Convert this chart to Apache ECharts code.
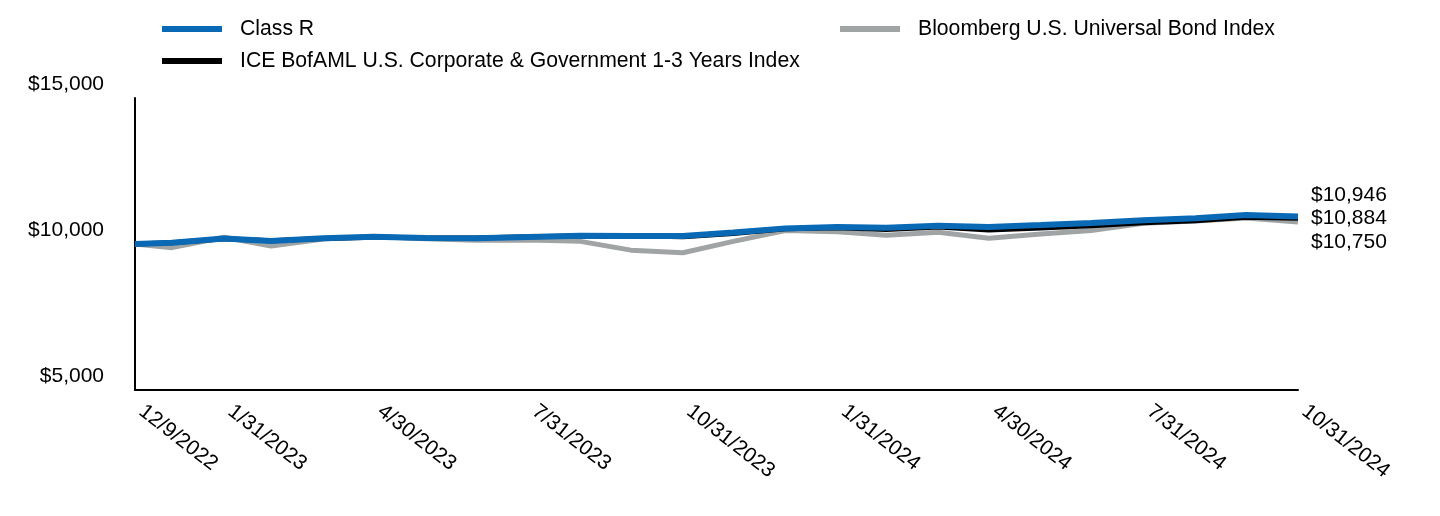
<!DOCTYPE html>
<html>
<head>
<meta charset="utf-8">
<script src="https://cdn.jsdelivr.net/npm/echarts@6/dist/echarts.min.js"></script>
<style>
html,body{margin:0;padding:0;background:#fff;}
#chart{width:1440px;height:516px;}
</style>
</head>
<body>
<div id="chart"></div>
<script>
// ---- data ----
var dates = ['2022-12-09','2022-12-31','2023-01-31','2023-02-28','2023-03-31','2023-04-30','2023-05-31','2023-06-30','2023-07-31','2023-08-31','2023-09-30','2023-10-31','2023-11-30','2023-12-31','2024-01-31','2024-02-29','2024-03-31','2024-04-30','2024-05-31','2024-06-30','2024-07-31','2024-08-31','2024-09-30','2024-10-31'];
var classR    = [10000,10045,10190,10100,10195,10250,10205,10195,10240,10285,10275,10275,10390,10535,10580,10560,10625,10580,10650,10720,10810,10880,10995,10946];
var iceIndex  = [10000,10040,10180,10110,10190,10230,10215,10205,10245,10270,10285,10250,10360,10520,10560,10500,10580,10480,10550,10625,10730,10800,10915,10884];
var bloomberg = [10000,9875,10230,9930,10170,10260,10180,10130,10140,10090,9790,9700,10090,10460,10420,10300,10400,10200,10340,10460,10710,10790,10890,10750];
var xLabelDates = ['2022-12-09','2023-01-31','2023-04-30','2023-07-31','2023-10-31','2024-01-31','2024-04-30','2024-07-31','2024-10-31'];
var yTicks = [5000,10000,15000];
var seriesNames = ['Class R','ICE BofAML U.S. Corporate & Government 1-3 Years Index','Bloomberg U.S. Universal Bond Index'];

function ts(s){var p=s.split('-');return Date.UTC(+p[0],+p[1]-1,+p[2]);}
function fmtDate(v){var d=new Date(v);return (d.getUTCMonth()+1)+'/'+d.getUTCDate()+'/'+d.getUTCFullYear();}
function money(v){return '$'+Math.round(v).toLocaleString('en-US');}
function pairs(arr){return arr.map(function(v,i){return [ts(dates[i]),v];});}

var FONT = 'Arial, "Liberation Sans", Helvetica, sans-serif';
var chart = echarts.init(document.getElementById('chart'));
chart.setOption({
  animation:false,
  backgroundColor:'#fff',
  textStyle:{fontFamily:FONT},
  legend:[{
    data:[seriesNames[0],seriesNames[1]],
    orient:'vertical', left:162, top:18, padding:0, itemWidth:60, itemHeight:6, itemGap:10,
    icon:'rect',
    textStyle:{fontSize:21.2,color:'#000',fontFamily:FONT,padding:[0,0,0,13],lineHeight:22}
  },{
    data:[seriesNames[2]],
    orient:'vertical', left:840, top:18, padding:0, itemWidth:60, itemHeight:6, itemGap:10,
    icon:'rect',
    textStyle:{fontSize:21.2,color:'#000',fontFamily:FONT,padding:[0,0,0,13],lineHeight:22}
  }],
  grid:{left:135,right:142,top:98,bottom:126,containLabel:false},
  xAxis:{
    type:'value',
    min:ts(dates[0]), max:ts(dates[dates.length-1]),
    axisLine:{show:true,onZero:false,lineStyle:{color:'#000',width:2}},
    axisTick:{show:false},
    splitLine:{show:false},
    axisLabel:{
      customValues:xLabelDates.map(ts),
      rotate:-38, margin:14, fontSize:21, color:'#000', fontFamily:FONT,
      padding:[0,0,0,8],
      formatter:function(v){return fmtDate(v);}
    }
  },
  yAxis:{
    type:'value', min:yTicks[0], max:yTicks[yTicks.length-1], interval:5000,
    axisLine:{show:true,onZero:false,lineStyle:{color:'#000',width:2}},
    axisTick:{show:false},
    splitLine:{show:false},
    axisLabel:{fontSize:21,color:'#000',margin:31,fontFamily:FONT,verticalAlign:'bottom',lineHeight:28,
      formatter:function(v){return money(v);}}
  },
  series:[{
    name:seriesNames[2], type:'line', data:pairs(bloomberg), showSymbol:false, symbol:'none',
    itemStyle:{color:'#a0a4a4'}, lineStyle:{color:'#a0a4a4',width:5},
    endLabel:{show:true,formatter:function(p){return money(p.value[1]);},offset:[5,20],fontSize:21,color:'#000',fontFamily:FONT}
  },{
    name:seriesNames[1], type:'line', data:pairs(iceIndex), showSymbol:false, symbol:'none',
    itemStyle:{color:'#000'}, lineStyle:{color:'#000',width:5},
    endLabel:{show:true,formatter:function(p){return money(p.value[1]);},offset:[5,0],fontSize:21,color:'#000',fontFamily:FONT}
  },{
    name:seriesNames[0], type:'line', data:pairs(classR), showSymbol:false, symbol:'none',
    itemStyle:{color:'#0969b5'}, lineStyle:{color:'#0969b5',width:6},
    endLabel:{show:true,formatter:function(p){return money(p.value[1]);},offset:[5,-21],fontSize:21,color:'#000',fontFamily:FONT}
  }]
});
</script>
</body>
</html>
